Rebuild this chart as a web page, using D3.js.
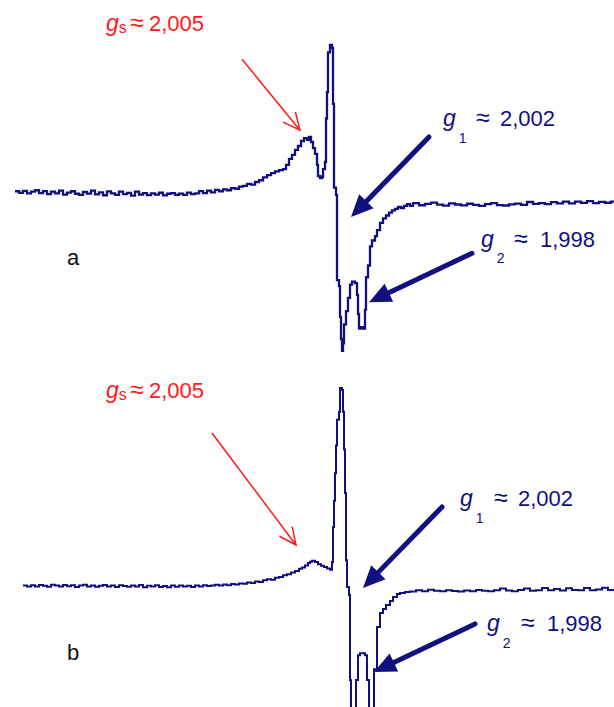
<!DOCTYPE html>
<html>
<head>
<meta charset="utf-8">
<script src="https://cdn.jsdelivr.net/npm/d3@7"></script>
<style>
  html, body { margin: 0; padding: 0; background: #fff; }
  svg { display: block; }
</style>
</head>
<body>
<svg></svg>
<script>
// Dimensions
var width = 614;
var height = 707;
var lineColor = '#10107e';
var redColor = '#ff1a1a';

// Spectrum a (field in channel units, signal in arbitrary units)
var fieldA = [1,5,9,13,17,21,25,29,33,37,41,45,49,53,57,61,65,69,73,77,81,85,89,93,97,101,105,109,113,117,
  121,125,129,133,137,141,145,149,153,157,161,165,169,173,177,181,185,189,193,197,201,205,209,213,217,221,225,229,233,237,
  241,245,249,253,257,261,265,269,272,275,278,281,284,287,290,293,295,297,299,301,303,304,306,308,309,311,
  312,313,314,316,318,319,320,322,323,325,326,327,328,329,330,332,334,336,338,341,343,344,345,347,349,
  351,352,354,356,358,361,363,366,369,372,375,378,381,384,387,390,393,396,399,
  405,411,417,423,429,435,441,447,453,459,465,471,477,483,489,495,501,507,513,519,525,531,537,543,549,555,561,567,573,579,585,591,597,600];
var signalA = [0.5,-0.5,0.8,-1.0,0.3,1.2,-0.8,0.6,-1.5,0.2,-0.9,1.0,-1.8,-0.4,0.5,-1.2,-2.0,0.0,-1.1,0.9,
  -1.6,-0.3,-2.2,0.4,-1.0,-1.9,0.2,-1.4,-0.6,-2.4,0.3,-1.7,-0.8,-2.1,-1.0,-1.8,-0.5,-2.3,-1.2,-0.7,
  -1.9,-1.1,-2.0,-0.4,-1.5,-0.9,0.6,-0.8,0.9,-0.2,1.4,0.5,1.8,1.2,2.7,2.2,3.6,4.2,5.5,5.0,
  6.8,8.0,9.9,11.5,12.9,14.0,14.9,15.6,18.4,22.5,25.2,28.6,31.3,34.7,36.7,35.4,37.4,34.0,29.9,25.9,18.4,10.9,9.5,10.2,15.6,20.4,
  50,68,95,100,98,60,3,-2,-60,-64,-85,-100,-108,-103,-90,-81,-72,-63,-61,-62,-70,-83,-93,-92,-93,
  -80,-58,-50,-37,-33,-30,-26,-21,-18,-16,-14,-12.5,-11.5,-10.2,-10.9,-9.5,-8.2,-9.5,-7.5,
  -9.0,-8.1,-7.2,-8.6,-9.3,-7.8,-8.5,-9.1,-8.0,-8.8,-9.4,-8.3,-7.6,-8.9,-9.2,-8.4,-7.9,-8.7,-6.8,-8.1,-7.5,-8.3,-6.9,-7.7,-6.5,-7.8,-6.6,-7.4,-6.2,-7.6,-6.7,-7.3,-6.5,-6.8];

// Spectrum b
var fieldB = [9,13,17,21,25,29,33,37,41,45,49,53,57,61,65,69,73,77,81,85,89,93,97,101,105,109,113,117,121,125,
  129,133,137,141,145,149,153,157,161,165,169,173,177,181,185,189,193,197,201,205,209,213,217,221,225,229,233,237,241,245,
  249,253,257,261,265,269,273,277,281,285,288,291,294,296,298,301,304,307,310,313,316,
  318,319,320,321,322,323,325,326,328,329,330,331,332,333,335,336,337,342,344,346,351,353,355,360,363,366,369,372,376,379,383,386,391,
  396,402,408,414,420,426,432,438,444,450,456,462,468,474,480,486,492,498,504,510,516,522,528,534,540,546,552,558,564,570,576,582,588,594,600];
var signalB = [0.3,-0.2,0.4,-0.3,0.5,0.1,-0.4,0.6,0.2,-0.3,0.5,-0.1,0.4,-0.5,0.2,0.6,-0.2,0.3,-0.4,0.1,
  0.5,-0.3,0.2,-0.5,0.4,0.0,-0.4,0.3,-0.2,0.5,-0.6,0.1,-0.3,0.4,-0.5,0.0,-0.6,0.2,-0.4,0.3,
  -0.2,0.1,-0.5,0.2,-0.3,0.4,0.0,0.3,0.6,0.2,0.7,0.4,1.0,0.7,1.3,1.1,1.8,1.5,2.3,2.0,
  2.9,3.4,3.1,4.2,4.6,5.4,5.9,6.8,7.6,8.7,9.4,10.4,11.6,12.3,12.8,12.1,11.0,10.2,9.6,8.9,8.2,
  12.1,29.8,43,57,71,84,88,100,99,88,69,47,13,-0.5,-4.5,-47.5,-65,-47.5,-35,-34,-35,-47.5,-65,-42,-20.7,-13.6,-11.6,-9.6,-7.6,-5.6,-4.0,-3.5,-3.0,
  -2.8,-2.2,-2.6,-1.9,-2.4,-2.7,-2.1,-2.5,-2.8,-2.3,-2.6,-2.0,-2.4,-2.7,-2.2,-1.3,-2.3,-2.6,-2.0,-1.2,-2.4,-2.1,-1.0,-2.2,-1.5,-2.3,-1.1,-2.0,-2.2,-1.0,-2.1,-1.8,-0.9,-2.0,-1.7];

// Labels
var panelLabels = ['a', 'b'];
var gsLabel = ['g', 's', '≈', '2,005'];
var g1Label = ['g', '1', '≈', '2,002'];
var g2Label = ['g', '2', '≈', '1,998'];

// Creates canvas
var svg = d3.select('svg')
  .attr('width', width)
  .attr('height', height)
  .style('background', '#fff');

var x = d3.scaleLinear().domain([0, 600]).range([14, 614]);
var yA = d3.scaleLinear().domain([-100, 100]).range([339, 45]);
var yB = d3.scaleLinear().domain([-100, 100]).range([784, 388]);

function drawSpectrum (fields, signals, y, strokeWidth) {
  var data = fields.map(function (f, i) { return [f, signals[i]]; });
  var line = d3.line()
    .x(function (d) { return x(d[0]); })
    .y(function (d) { return y(d[1]); })
    .curve(d3.curveStepAfter);
  svg.append('path')
    .datum(data)
    .attr('d', line)
    .attr('fill', 'none')
    .attr('stroke', lineColor)
    .attr('stroke-width', strokeWidth)
    .attr('stroke-linejoin', 'miter');
}

drawSpectrum(fieldA, signalA, yA, 2.3);
drawSpectrum(fieldB, signalB, yB, 2);

// Thick filled arrow (blue) or thin open arrow (red)
function arrow (tipX, tipY, dx, dy, thick) {
  var tailX = tipX + dx, tailY = tipY + dy;
  var len = Math.sqrt(dx * dx + dy * dy);
  var ux = -dx / len, uy = -dy / len;   // direction tail -> tip
  var nx = -uy, ny = ux;
  if (thick) {
    var L = 22, W = 10;
    var bx = tipX - L * ux, by = tipY - L * uy;
    svg.append('line')
      .attr('x1', tailX).attr('y1', tailY)
      .attr('x2', bx + 3 * ux).attr('y2', by + 3 * uy)
      .attr('stroke', lineColor)
      .attr('stroke-width', 5)
      .attr('stroke-linecap', 'round');
    svg.append('polygon')
      .attr('points', [[tipX, tipY], [bx + W * nx, by + W * ny], [bx - W * nx, by - W * ny]].join(' '))
      .attr('fill', lineColor);
  } else {
    var L2 = 17, W2 = 8;
    var cx = tipX - L2 * ux, cy = tipY - L2 * uy;
    svg.append('line')
      .attr('x1', tailX).attr('y1', tailY)
      .attr('x2', tipX).attr('y2', tipY)
      .attr('stroke', redColor)
      .attr('stroke-width', 1.5);
    svg.append('polyline')
      .attr('points', [[cx + W2 * nx, cy + W2 * ny], [tipX, tipY], [cx - W2 * nx, cy - W2 * ny]].join(' '))
      .attr('fill', 'none')
      .attr('stroke', redColor)
      .attr('stroke-width', 1.5);
  }
}

// Arrows anchored on the spectra (field, signal), tail offset in pixels
arrow(x(286), yA(42), -58, -71, false);
arrow(x(337), yA(-17), 78, -80, true);
arrow(x(355), yA(-75), 103, -49, true);
arrow(x(282), yB(20.7), -84, -112, false);
arrow(x(349), yB(-1), 79, -81, true);
arrow(x(360), yB(-43.4), 101, -48, true);

var font = "'Liberation Sans', Arial, Helvetica, sans-serif";

function gLabel (lbl, gx, base, color, size, subSize, subDx, subDy, approxX, numX) {
  var t = svg.append('text')
    .attr('font-family', font)
    .attr('fill', color)
    .attr('font-size', size)
    .attr('y', base);
  t.append('tspan').attr('x', gx).attr('font-style', 'italic').attr('font-size', size + 1).text(lbl[0]);
  t.append('tspan').attr('dx', subDx).attr('dy', subDy).attr('font-size', subSize).text(lbl[1]);
  t.append('tspan').attr('x', approxX).attr('y', base).attr('font-size', size + 3).text(lbl[2]);
  t.append('tspan').attr('x', numX).attr('y', base).text(lbl[3]);
}

gLabel(gsLabel, 106, 31, redColor, 22, 16, 0, 2, 130, 149);
gLabel(gsLabel, 106, 398, redColor, 22, 16, 0, 2, 130, 149);
gLabel(g1Label, 443, 126, lineColor, 22, 14, 3, 17, 476, 500);
gLabel(g2Label, 481, 247, lineColor, 22, 14, 3, 16, 514, 540);
gLabel(g1Label, 460, 506, lineColor, 22, 14, 3, 17, 494, 518);
gLabel(g2Label, 487, 631, lineColor, 22, 14, 3, 17, 521, 547);

svg.selectAll('.panel')
  .data(panelLabels)
  .enter()
  .append('text')
    .attr('class', 'panel')
    .attr('x', 67)
    .attr('y', function (d, i) { return i === 0 ? 265 : 660; })
    .attr('font-family', font)
    .attr('font-size', 22)
    .attr('fill', '#111')
    .text(function (d) { return d; });
</script>
</body>
</html>
